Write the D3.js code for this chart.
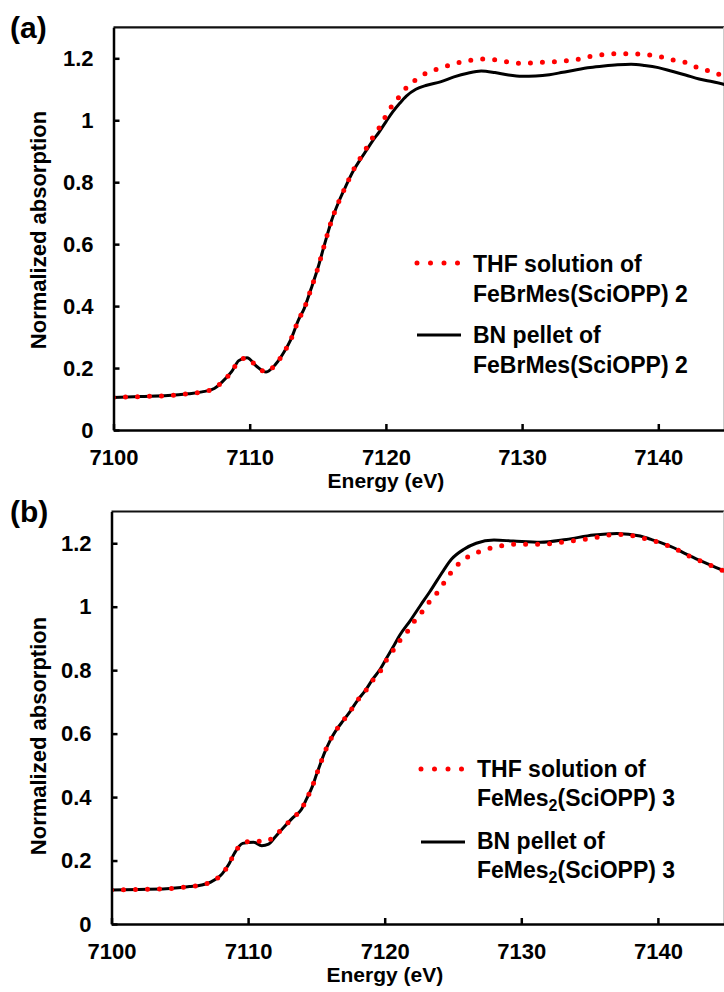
<!DOCTYPE html>
<html>

<head>
    <meta charset="utf-8">
    <style>
        body {
            margin: 0;
            background: white;
        }

        svg {
            display: block;
            font-family: 'Liberation Sans', Arial, sans-serif;
            font-weight: bold;
        }

        .tick text {
            font-size: 22px;
            fill: black;
        }

        .axis-title {
            font-size: 21px;
        }

        .legend text {
            font-size: 23px;
        }
    </style>
</head>

<body>
    <svg width="724" height="992"></svg>
</body>

<script src="https://d3js.org/d3.v7.min.js"></script>

<script>
    // ticks
    let xTicks = [7100, 7110, 7120, 7130, 7140];
    let yTicks = [0, 0.2, 0.4, 0.6, 0.8, 1, 1.2];
    let yTickLabels = ["0", "0.2", "0.4", "0.6", "0.8", "1", "1.2"];

    // panel (a) - FeBrMes(SciOPP) 2
    let thfEnergyA = [7100, 7102, 7104, 7105.5, 7106.5, 7107.4, 7108, 7108.7, 7109.2, 7109.8, 7110.5, 7111.2, 7111.9, 7112.5, 7113, 7113.6, 7114, 7114.5, 7115, 7115.5, 7116, 7116.5, 7117, 7117.6, 7118.1, 7118.6, 7119, 7119.5, 7120, 7120.5, 7121, 7121.5, 7122.2, 7123, 7124, 7125, 7126, 7127, 7128, 7129, 7130, 7131, 7132, 7133, 7134, 7135, 7136, 7137, 7138, 7139, 7140, 7141, 7142, 7143, 7144, 7145];
    let thfValuesA = [0.105, 0.108, 0.111, 0.117, 0.123, 0.134, 0.156, 0.19, 0.224, 0.233, 0.206, 0.187, 0.212, 0.25, 0.29, 0.357, 0.392, 0.455, 0.522, 0.6, 0.675, 0.733, 0.782, 0.838, 0.876, 0.912, 0.942, 0.975, 1.014, 1.05, 1.077, 1.105, 1.131, 1.153, 1.168, 1.182, 1.192, 1.198, 1.195, 1.188, 1.184, 1.186, 1.188, 1.191, 1.196, 1.206, 1.212, 1.215, 1.215, 1.212, 1.207, 1.195, 1.187, 1.168, 1.156, 1.138];

    let bnEnergyA = [7100, 7102, 7104, 7105.5, 7106.5, 7107.4, 7108, 7108.7, 7109.2, 7109.8, 7110.5, 7111.2, 7111.9, 7112.5, 7113, 7113.6, 7114, 7114.5, 7115, 7115.5, 7116, 7116.5, 7117, 7117.6, 7118.1, 7118.6, 7119, 7119.5, 7120, 7120.5, 7121, 7121.5, 7122.2, 7123, 7124, 7125, 7126, 7127, 7128, 7129, 7130, 7131, 7132, 7133, 7134, 7135, 7136, 7137, 7138, 7139, 7140, 7141, 7142, 7143, 7144, 7145];
    let bnValuesA = [0.105, 0.108, 0.111, 0.117, 0.123, 0.134, 0.156, 0.19, 0.224, 0.233, 0.206, 0.187, 0.212, 0.25, 0.29, 0.357, 0.392, 0.455, 0.522, 0.6, 0.675, 0.733, 0.782, 0.836, 0.872, 0.905, 0.932, 0.962, 0.995, 1.027, 1.054, 1.078, 1.1, 1.113, 1.124, 1.14, 1.152, 1.159, 1.154, 1.146, 1.142, 1.143, 1.147, 1.155, 1.163, 1.17, 1.175, 1.179, 1.181, 1.177, 1.17, 1.158, 1.146, 1.133, 1.124, 1.114];

    // panel (b) - FeMes2(SciOPP) 3
    let thfEnergyB = [7100, 7102, 7104, 7105.7, 7106.6, 7107.3, 7108.1, 7108.6, 7109, 7109.6, 7110.4, 7111.3, 7112, 7112.7, 7113.3, 7113.9, 7114.3, 7114.7, 7115, 7115.3, 7115.6, 7116, 7116.4, 7117, 7117.5, 7118, 7118.6, 7119.1, 7119.7, 7120.1, 7120.6, 7121.1, 7121.7, 7122.2, 7122.8, 7123.3, 7123.9, 7124.4, 7124.9, 7125.5, 7126.2, 7127.1, 7128, 7128.8, 7129.7, 7130.6, 7131.5, 7132.4, 7133.3, 7134.2, 7135.1, 7136, 7136.9, 7137.8, 7138.6, 7139.5, 7140.4, 7141.2, 7142, 7142.8, 7143.6, 7144.5, 7145];
    let thfValuesB = [0.107, 0.109, 0.111, 0.118, 0.123, 0.133, 0.158, 0.189, 0.223, 0.254, 0.262, 0.26, 0.28, 0.309, 0.336, 0.361, 0.396, 0.433, 0.47, 0.506, 0.54, 0.578, 0.608, 0.643, 0.672, 0.704, 0.735, 0.767, 0.798, 0.83, 0.861, 0.893, 0.924, 0.956, 0.987, 1.017, 1.047, 1.079, 1.11, 1.139, 1.16, 1.176, 1.187, 1.194, 1.197, 1.197, 1.197, 1.2, 1.205, 1.21, 1.215, 1.223, 1.228, 1.226, 1.219, 1.21, 1.198, 1.184, 1.166, 1.15, 1.135, 1.118, 1.11];

    let bnEnergyB = [7100, 7102, 7104, 7105.7, 7106.6, 7107.3, 7108.1, 7108.6, 7109, 7109.6, 7110.4, 7111, 7111.5, 7112, 7112.7, 7113.3, 7113.9, 7114.3, 7114.7, 7115, 7115.3, 7115.6, 7116, 7116.4, 7117, 7117.5, 7118, 7118.6, 7119.1, 7119.7, 7120.1, 7120.6, 7121.1, 7121.9, 7122.6, 7123.3, 7124.3, 7124.9, 7125.8, 7126.7, 7128, 7129.4, 7131.4, 7133.3, 7135.3, 7137, 7138.7, 7139.5, 7140.4, 7141.2, 7142, 7142.8, 7143.6, 7144.5, 7145];
    let bnValuesB = [0.107, 0.109, 0.111, 0.118, 0.123, 0.133, 0.158, 0.189, 0.223, 0.254, 0.258, 0.247, 0.252, 0.275, 0.309, 0.336, 0.361, 0.396, 0.433, 0.47, 0.506, 0.54, 0.578, 0.608, 0.643, 0.672, 0.704, 0.737, 0.77, 0.805, 0.835, 0.872, 0.91, 0.958, 1.003, 1.047, 1.114, 1.15, 1.181, 1.2, 1.21, 1.207, 1.203, 1.212, 1.226, 1.231, 1.223, 1.212, 1.199, 1.185, 1.167, 1.151, 1.136, 1.119, 1.11];

    let svg = d3.select("svg");

    let panels = [
        {
            id: "a", label: "(a)", labelY: 38,
            left: 113.5, bottom: 430, xPer10: 136.2, yPerUnit: 309.75,
            titleY: 230, energyY: 488,
            thf: [thfEnergyA, thfValuesA], bn: [bnEnergyA, bnValuesA],
            legend: { x: 473, dotsY: 263, lineY: 335, baselines: [272, 302, 343, 373] },
            compound: ["FeBrMes(SciOPP) 2"]
        },
        {
            id: "b", label: "(b)", labelY: 522,
            left: 111.5, bottom: 924, xPer10: 136.6, yPerUnit: 317.3,
            titleY: 736, energyY: 982,
            thf: [thfEnergyB, thfValuesB], bn: [bnEnergyB, bnValuesB],
            legend: { x: 477, dotsY: 769, lineY: 842, baselines: [777, 806, 849, 878] },
            compound: ["FeMes", "2", "(SciOPP) 3"]
        }
    ];

    panels.forEach(p => drawPanel(p));

    function drawPanel(p) {
        let x = d3.scaleLinear()
            .domain([7100, 7145])
            .range([p.left, p.left + 4.5 * p.xPer10]);

        let y = d3.scaleLinear()
            .domain([0, 1.3])
            .range([p.bottom, p.bottom - 1.3 * p.yPerUnit]);

        let g = svg.append("g").attr("class", "panel-" + p.id);

        g.append("clipPath")
            .attr("id", "clip-" + p.id)
            .append("rect")
            .attr("x", x(7100))
            .attr("y", y(1.3))
            .attr("width", 724 - x(7100))
            .attr("height", y(0) - y(1.3));

        // top border and faint right edge
        g.append("line")
            .attr("x1", x(7100)).attr("x2", 724)
            .attr("y1", y(1.3)).attr("y2", y(1.3))
            .style("stroke", "#111")
            .style("stroke-width", 2.2);

        g.append("line")
            .attr("x1", 723.5).attr("x2", 723.5)
            .attr("y1", y(1.3)).attr("y2", y(0))
            .style("stroke", "#ccc")
            .style("stroke-width", 1);

        let line = d3.line()
            .x(d => x(d[0]))
            .y(d => y(d[1]))
            .curve(d3.curveMonotoneX);

        let plot = g.append("g").attr("clip-path", "url(#clip-" + p.id + ")");

        plot.append("path")
            .datum(d3.zip(p.bn[0], p.bn[1]))
            .attr("d", line)
            .style("fill", "none")
            .style("stroke", "black")
            .style("stroke-width", 3);

        plot.append("path")
            .datum(d3.zip(p.thf[0], p.thf[1]))
            .attr("d", line)
            .style("fill", "none")
            .style("stroke", "#ff0000")
            .style("stroke-width", 5)
            .style("stroke-linecap", "round")
            .style("stroke-dasharray", "0 12");

        // axes
        let xAxis = g.append("g")
            .attr("transform", "translate(0," + y(0) + ")")
            .call(d3.axisBottom(x)
                .tickValues(xTicks)
                .tickFormat(d3.format("d"))
                .tickSizeInner(-6)
                .tickSizeOuter(0)
                .tickPadding(19));

        let yAxis = g.append("g")
            .attr("transform", "translate(" + x(7100) + ",0)")
            .call(d3.axisLeft(y)
                .tickValues(yTicks)
                .tickFormat((d, i) => yTickLabels[i])
                .tickSizeInner(-6)
                .tickSizeOuter(0)
                .tickPadding(20));

        [xAxis, yAxis].forEach(a => {
            a.selectAll("path, line").style("stroke", "black").style("stroke-width", 2.5);
            a.attr("font-family", null).attr("font-size", null);
        });

        g.append("text")
            .attr("class", "axis-title")
            .attr("x", (x(7100) + x(7145)) / 2 - 34)
            .attr("y", p.energyY)
            .attr("text-anchor", "middle")
            .text("Energy (eV)");

        g.append("text")
            .attr("class", "axis-title")
            .style("font-size", "22px")
            .attr("transform", "translate(46," + p.titleY + ") rotate(-90)")
            .attr("text-anchor", "middle")
            .text("Normalized absorption");

        g.append("text")
            .attr("x", 10)
            .attr("y", p.labelY)
            .style("font-size", "30px")
            .text(p.label);

        // legend
        let lg = g.append("g").attr("class", "legend");
        let L = p.legend;

        lg.append("line")
            .attr("x1", L.x - 56).attr("x2", L.x - 14)
            .attr("y1", L.dotsY).attr("y2", L.dotsY)
            .style("stroke", "#ff0000")
            .style("stroke-width", 5)
            .style("stroke-linecap", "round")
            .style("stroke-dasharray", "0 13.5");

        lg.append("line")
            .attr("x1", L.x - 56).attr("x2", L.x - 12)
            .attr("y1", L.lineY).attr("y2", L.lineY)
            .style("stroke", "black")
            .style("stroke-width", 3);

        let lines = ["THF solution of", null, "BN pellet of", null];
        lines.forEach((t, i) => {
            let txt = lg.append("text")
                .attr("x", L.x)
                .attr("y", L.baselines[i]);
            if (t) {
                txt.text(t);
            } else if (p.compound.length === 1) {
                txt.text(p.compound[0]);
            } else {
                txt.append("tspan").text(p.compound[0]);
                txt.append("tspan").attr("dy", 5).style("font-size", "16px").text(p.compound[1]);
                txt.append("tspan").attr("dy", -5).text(p.compound[2]);
            }
        });
    }
</script>

</html>
